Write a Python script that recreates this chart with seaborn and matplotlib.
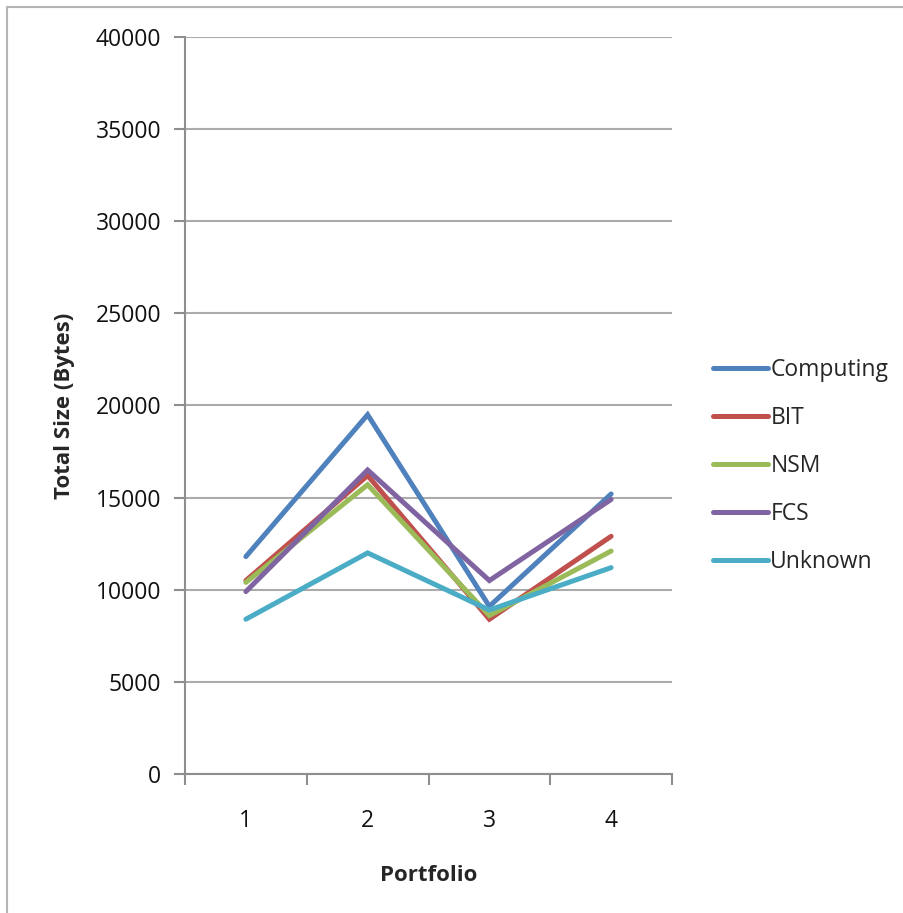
import matplotlib
matplotlib.use("Agg")
import matplotlib.pyplot as plt
from matplotlib.lines import Line2D
import seaborn as sns
import pandas as pd

# Portfolio sizes per school (bytes)
portfolios = [1, 2, 3, 4]
computing = [11800, 19500, 9100, 15200]
bit = [10500, 16200, 8400, 12900]
nsm = [10400, 15700, 8600, 12100]
fcs = [9900, 16500, 10500, 14900]
unknown = [8400, 12000, 8900, 11200]

series_names = ["Computing", "BIT", "NSM", "FCS", "Unknown"]
series_values = [computing, bit, nsm, fcs, unknown]
colors = ["#4F81BD", "#C0504D", "#9BBB59", "#8064A2", "#4BACC6"]

rows = []
for name, vals in zip(series_names, series_values):
    for p, v in zip(portfolios, vals):
        rows.append({"Portfolio": p, "Size": v, "Group": name})
df = pd.DataFrame(rows)

sns.set_theme(style="white")
plt.rcParams["font.family"] = ["Open Sans", "DejaVu Sans"]

W, H = 904, 913
fig = plt.figure(figsize=(W / 100, H / 100), dpi=100)
ax = fig.add_axes([185 / W, (H - 774) / H, (672 - 185) / W, (774 - 37) / H])

sns.lineplot(data=df, x="Portfolio", y="Size", hue="Group",
             hue_order=series_names, palette=colors, linewidth=3.6,
             ax=ax, legend=False, zorder=3,
             solid_capstyle="round", solid_joinstyle="miter")

ax.set_xlim(0.5, 4.5)
ax.set_ylim(0, 40000)
ax.set_yticks(range(0, 40001, 5000))
ax.set_xticks(portfolios)
ax.set_xticks([0.5, 1.5, 2.5, 3.5, 4.5], minor=True)

grid_col = "#ababab"
axis_col = "#8e8e8e"
ax.yaxis.grid(True, color=grid_col, linewidth=1.5, zorder=1)
ax.xaxis.grid(False)
for s in ["top", "right"]:
    ax.spines[s].set_visible(False)
for s in ["left", "bottom"]:
    ax.spines[s].set_color(axis_col)
    ax.spines[s].set_linewidth(1.5)

fs = 16.5
ax.tick_params(axis="y", which="major", direction="out", length=8, width=1.5,
               color=axis_col, labelsize=fs, pad=9, left=True)
ax.tick_params(axis="x", which="major", length=0, labelsize=fs, pad=25)
ax.tick_params(axis="x", which="minor", direction="out", length=8, width=1.5,
               color=axis_col, bottom=True)
for lab in ax.get_xticklabels() + ax.get_yticklabels():
    lab.set_color("#111111")

ax.set_xlabel("Portfolio", fontsize=16, fontweight="bold", labelpad=23)
ax.set_ylabel("Total Size (Bytes)", fontsize=16, fontweight="bold", labelpad=15)

handles = [Line2D([0], [0], color=c, linewidth=3.6, solid_capstyle="round")
           for c in colors]
fig.legend(handles, series_names, loc="center left",
           bbox_to_anchor=(713 / W, 1 - 466 / H), frameon=False,
           fontsize=fs, handlelength=2.4, handletextpad=0.1,
           labelspacing=1.05, borderpad=0, borderaxespad=0)

# thin frame around the chart area
border_col = "#b5b5b5"
fig.add_artist(Line2D([7 / W, 1.0], [1 - 7 / H, 1 - 7 / H], color=border_col,
                      linewidth=1.5, transform=fig.transFigure))
fig.add_artist(Line2D([7 / W, 7 / W], [0.0, 1 - 7 / H], color=border_col,
                      linewidth=1.5, transform=fig.transFigure))

fig.savefig("out.png", dpi=100, facecolor="white")
